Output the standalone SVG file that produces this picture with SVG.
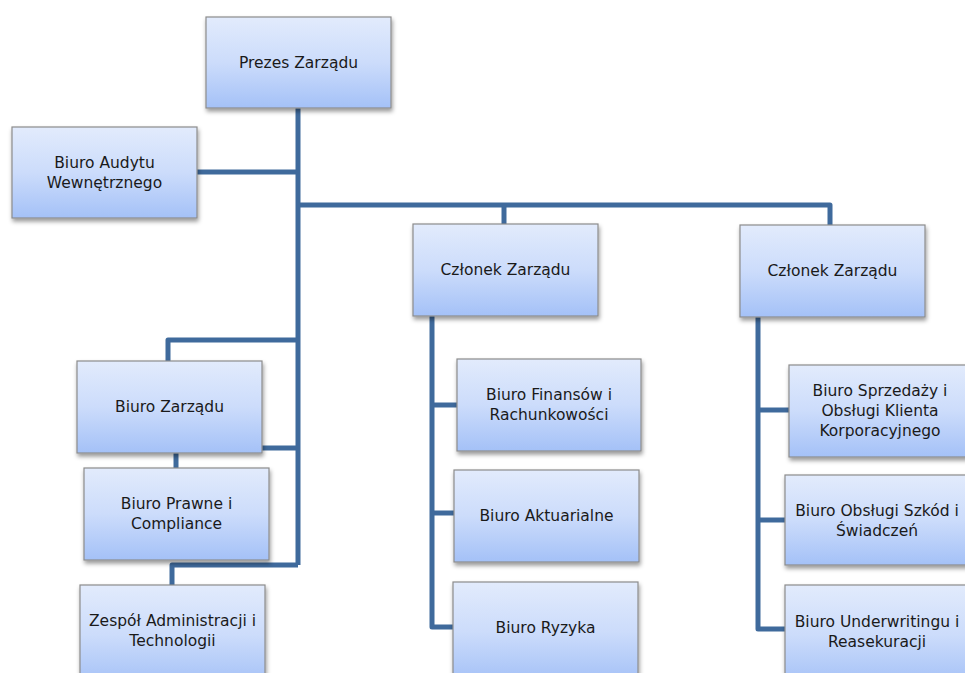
<svg xmlns="http://www.w3.org/2000/svg" width="965" height="673" viewBox="0 0 965 673">
<defs>
<linearGradient id="g" x1="0" y1="0" x2="0" y2="1">
<stop offset="0" stop-color="#E2EBFC"/>
<stop offset="0.5" stop-color="#CCDCFB"/>
<stop offset="1" stop-color="#A4C1F7"/>
</linearGradient>
<filter id="sh" x="-10%" y="-10%" width="125%" height="130%">
<feDropShadow dx="1" dy="3" stdDeviation="2" flood-color="#000" flood-opacity="0.4"/>
</filter>
</defs>
<style>
.box{fill:url(#g);stroke:#8C8C8C;stroke-width:1.2;filter:url(#sh)}
.t{font-family:"DejaVu Sans",Verdana,sans-serif;font-size:15.5px;fill:#1a1a1a;text-anchor:middle}
.c{fill:none;stroke:#3F6A9C;stroke-width:5;stroke-linejoin:round}
</style>
<rect width="965" height="673" fill="#fff"/>
<g id="connectors">
<path class="c" d="M298 108V565"/>
<path class="c" d="M197 172H298"/>
<path class="c" d="M298 205H830V225"/>
<path class="c" d="M504 205V224"/>
<path class="c" d="M298 340H168V361"/>
<path class="c" d="M262 448H298"/>
<path class="c" d="M176 453V468"/>
<path class="c" d="M298 565H172V585"/>
<path class="c" d="M432 316V627H453"/>
<path class="c" d="M432 405H457"/>
<path class="c" d="M432 513H454"/>
<path class="c" d="M758 317V629H785"/>
<path class="c" d="M758 410H789"/>
<path class="c" d="M758 520H785"/>
</g>
<g id="prezes"><rect class="box" x="206" y="17" width="185" height="91"/><text class="t" x="298.5" y="68">Prezes Zarządu</text></g>
<g id="audyt"><rect class="box" x="12" y="127" width="185" height="91"/><text class="t" x="104.5" y="168">Biuro Audytu</text><text class="t" x="104.5" y="188">Wewnętrznego</text></g>
<g id="czlonek1"><rect class="box" x="413" y="224" width="185" height="92"/><text class="t" x="505.5" y="275">Członek Zarządu</text></g>
<g id="czlonek2"><rect class="box" x="740" y="225" width="185" height="92"/><text class="t" x="832.5" y="276">Członek Zarządu</text></g>
<g id="zarzad"><rect class="box" x="77" y="361" width="185" height="92"/><text class="t" x="169.5" y="412">Biuro Zarządu</text></g>
<g id="prawne"><rect class="box" x="84" y="468" width="185" height="92"/><text class="t" x="176.5" y="509">Biuro Prawne i</text><text class="t" x="176.5" y="529">Compliance</text></g>
<g id="zespol"><rect class="box" x="80" y="585" width="185" height="100"/><text class="t" x="172.5" y="626">Zespół Administracji i</text><text class="t" x="172.5" y="646">Technologii</text></g>
<g id="finanse"><rect class="box" x="457" y="359" width="184" height="92"/><text class="t" x="549" y="400">Biuro Finansów i</text><text class="t" x="549" y="420">Rachunkowości</text></g>
<g id="aktuarialne"><rect class="box" x="454" y="470" width="185" height="92"/><text class="t" x="546.5" y="521">Biuro Aktuarialne</text></g>
<g id="ryzyka"><rect class="box" x="453" y="582" width="185" height="100"/><text class="t" x="545.5" y="633">Biuro Ryzyka</text></g>
<g id="sprzedaz"><rect class="box" x="789" y="365" width="185" height="92"/><text class="t" x="880" y="396">Biuro Sprzedaży i</text><text class="t" x="880" y="416">Obsługi Klienta</text><text class="t" x="880" y="436">Korporacyjnego</text></g>
<g id="szkody"><rect class="box" x="785" y="475" width="185" height="90"/><text class="t" x="877" y="516">Biuro Obsługi Szkód i</text><text class="t" x="877" y="536">Świadczeń</text></g>
<g id="underwriting"><rect class="box" x="785" y="585" width="185" height="100"/><text class="t" x="877" y="627">Biuro Underwritingu i</text><text class="t" x="877" y="647">Reasekuracji</text></g>
</svg>
